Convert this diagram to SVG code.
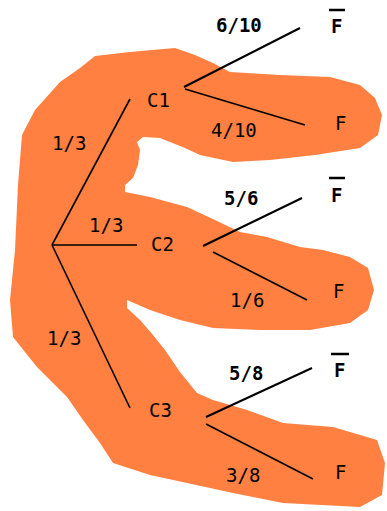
<svg xmlns="http://www.w3.org/2000/svg" width="387" height="511" viewBox="0 0 387 511">
<style>
.lbl{font-family:"DejaVu Sans Mono","Liberation Mono",monospace;font-size:19px;fill:#000}
.b{font-weight:bold}
.ln{stroke:#000;stroke-width:1.6;fill:none}
.ov{stroke:#000;stroke-width:2.5}
</style>
<rect width="387" height="511" fill="#fff"/>
<path id="blob" fill="#FF8040" d="M18,185 L22,135 L35,110 L60,82 L80,68 L95,56 L130,52 L175,48 L195,55 L213,63 L230,72 L280,75 L330,77 L360,85 L375,98 L382,115 L378,135 L360,148 L315,155 L270,160 L233,162 L200,155 L185,148 L160,138 L143,137 L137,142 L140,150 L138,165 L133,178 L125,185 L125,192 L150,197 L187,207 L215,220 L240,232 L267,237 L300,247 L323,250 L350,257 L368,268 L374,290 L368,310 L350,323 L310,330 L260,330 L213,328 L180,320 L150,310 L127,300 L127,308 L140,320 L153,335 L165,350 L180,372 L197,393 L213,400 L247,410 L283,423 L333,427 L377,440 L385,463 L382,495 L360,507 L283,503 L233,493 L187,483 L150,475 L113,463 L100,443 L83,420 L67,397 L37,367 L13,337 L10,300 L15,250 Z"/>
<g id="connectors" class="ln">
<line x1="52" y1="245" x2="130" y2="99"/>
<line x1="52" y1="245" x2="137" y2="245"/>
<line x1="52" y1="245" x2="130" y2="408"/>
<line x1="184" y1="87" x2="300" y2="28" stroke-width="2"/>
<line x1="185" y1="89" x2="305" y2="125"/>
<line x1="203" y1="246" x2="302" y2="198" stroke-width="2"/>
<line x1="213" y1="252" x2="307" y2="300"/>
<line x1="206" y1="417" x2="312" y2="368" stroke-width="2"/>
<line x1="206" y1="424" x2="313" y2="479"/>
</g>
<g id="root-labels">
<text class="lbl" x="52" y="150">1/3</text>
<text class="lbl" x="89" y="232">1/3</text>
<text class="lbl" x="47" y="345">1/3</text>
</g>
<g id="C1"><text class="lbl" x="147" y="107">C1</text></g>
<g id="C2"><text class="lbl" x="151" y="251">C2</text></g>
<g id="C3"><text class="lbl" x="149" y="417">C3</text></g>
<g id="C1-edges">
<text class="lbl b" x="216" y="32">6/10</text>
<text class="lbl" x="211" y="137">4/10</text>
</g>
<g id="C2-edges">
<text class="lbl b" x="224" y="205">5/6</text>
<text class="lbl" x="230" y="307">1/6</text>
</g>
<g id="C3-edges">
<text class="lbl b" x="229" y="380">5/8</text>
<text class="lbl" x="226" y="482">3/8</text>
</g>
<g id="F1bar"><line class="ov" x1="329" y1="10" x2="345" y2="10"/><text class="lbl b" x="331" y="33">F</text></g>
<g id="F1"><text class="lbl" x="335" y="130">F</text></g>
<g id="F2bar"><line class="ov" x1="329" y1="178" x2="345" y2="178"/><text class="lbl b" x="331" y="202">F</text></g>
<g id="F2"><text class="lbl" x="333" y="298">F</text></g>
<g id="F3bar"><line class="ov" x1="331" y1="354" x2="349" y2="354"/><text class="lbl b" x="334" y="377">F</text></g>
<g id="F3"><text class="lbl" x="335" y="479">F</text></g>
</svg>
